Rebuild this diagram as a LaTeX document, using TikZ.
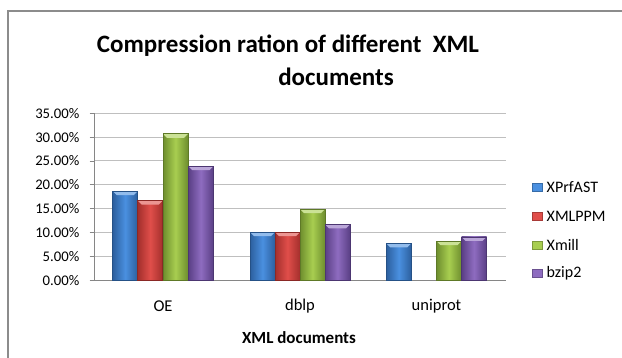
\documentclass[tikz,border=0pt]{standalone}
\usepackage{fontspec}
\setmainfont{Carlito}
\definecolor{bdark}{HTML}{2C5F9E}\definecolor{blight}{HTML}{4A90E0}
\definecolor{rdark}{HTML}{A32F2C}\definecolor{rlight}{HTML}{E04E4A}
\definecolor{gdark}{HTML}{6E8E2E}\definecolor{glight}{HTML}{A8CE50}
\definecolor{pdark}{HTML}{5A3F85}\definecolor{plight}{HTML}{8E6CC0}
\definecolor{framegray}{HTML}{8C8C8C}
\definecolor{gridgray}{HTML}{BFBFBF}
\definecolor{axisgray}{HTML}{868686}
\newcommand\chartbar[4]{%
  \pgfmathsetmacro\ytop{280.3-#2*4.772}
  \shade[left color=#3,right color=#3,middle color=#4] (#1,280.3) rectangle ({#1+25},\ytop);
  \fill[#4!60!white] (#1,\ytop) -- ({#1+25},\ytop) -- ({#1+21},{\ytop+4}) -- ({#1+4},{\ytop+4}) -- cycle;
  \draw[#3!85!black,line width=0.6pt] (#1,280.3) rectangle ({#1+25},\ytop);
}
\begin{document}
\begin{tikzpicture}[x=1pt,y=-1pt,
  ylab/.style={anchor=east,font=\fontsize{14.7}{16}\selectfont,inner sep=0pt},
  catlab/.style={anchor=center,font=\fontsize{16.5}{18}\selectfont,inner sep=0pt},
  leglab/.style={anchor=west,font=\fontsize{16}{18}\selectfont,inner sep=0pt},
  titl/.style={font=\fontsize{25}{30}\selectfont\bfseries,inner sep=0pt,anchor=base},
  legsq/.style={minimum width=10pt,minimum height=8pt,inner sep=0pt,draw=#1!75!black,fill=#1}]
\useasboundingbox (0,0) rectangle (622,358);
\fill[white] (0,0) rectangle (622,358);
% frame
\draw[framegray,line width=1.5pt] (8,358) -- (8,11) -- (622,11);
% title
\node[titl] (title1) at (288,53) {Compression ration of different\ \ XML};
\node[titl] (title2) at (336,86) {documents};
% grid
\foreach \i/\lab in {0/0.00\%,1/5.00\%,2/10.00\%,3/15.00\%,4/20.00\%,5/25.00\%,6/30.00\%,7/35.00\%}{
  \pgfmathsetmacro\yy{280.3-\i*23.86}
  \ifnum\i>0 \draw[gridgray,line width=1pt] (94.3,\yy) -- (506,\yy);\fi
  \draw[axisgray,line width=0.8pt] (89.5,\yy) -- (94.3,\yy);
  \node[ylab] (yl\i) at (79.5,\yy) {\lab};
}
\draw[axisgray,line width=0.9pt] (94.3,113.3) -- (94.3,280.3);
\draw[axisgray,line width=0.9pt] (94.3,280.3) -- (506,280.3);
% bars OE
\chartbar{112.7}{18.7}{bdark}{blight}
\chartbar{137.7}{16.7}{rdark}{rlight}
\chartbar{163.0}{30.7}{gdark}{glight}
\chartbar{188.3}{23.9}{pdark}{plight}
% bars dblp
\chartbar{250}{10.1}{bdark}{blight}
\chartbar{275}{10.1}{rdark}{rlight}
\chartbar{300}{14.9}{gdark}{glight}
\chartbar{325}{11.7}{pdark}{plight}
% bars uniprot
\chartbar{386.3}{7.75}{bdark}{blight}
\chartbar{436.5}{8.2}{gdark}{glight}
\chartbar{461.5}{9.1}{pdark}{plight}
% category labels
\node[catlab] (cOE) at (163,306.5) {OE};
\node[catlab] (cdb) at (300,306.5) {dblp};
\node[catlab] (cun) at (436.5,306.5) {uniprot};
\node[font=\fontsize{17}{19}\selectfont\bfseries,inner sep=0pt] (xtitle) at (299,337.5) {XML documents};
% legend
\node[legsq=blight] (s1) at (537,187.3) {};
\node[legsq=rlight] (s2) at (537,216) {};
\node[legsq=glight] (s3) at (537,245) {};
\node[legsq=plight] (s4) at (537,273.5) {};
\node[leglab] (l1) at (546.5,187.3) {XPrfAST};
\node[leglab] (l2) at (546.5,216) {XMLPPM};
\node[leglab] (l3) at (546.5,245) {Xmill};
\node[leglab] (l4) at (546.5,273.5) {bzip2};
\end{tikzpicture}
\end{document}
